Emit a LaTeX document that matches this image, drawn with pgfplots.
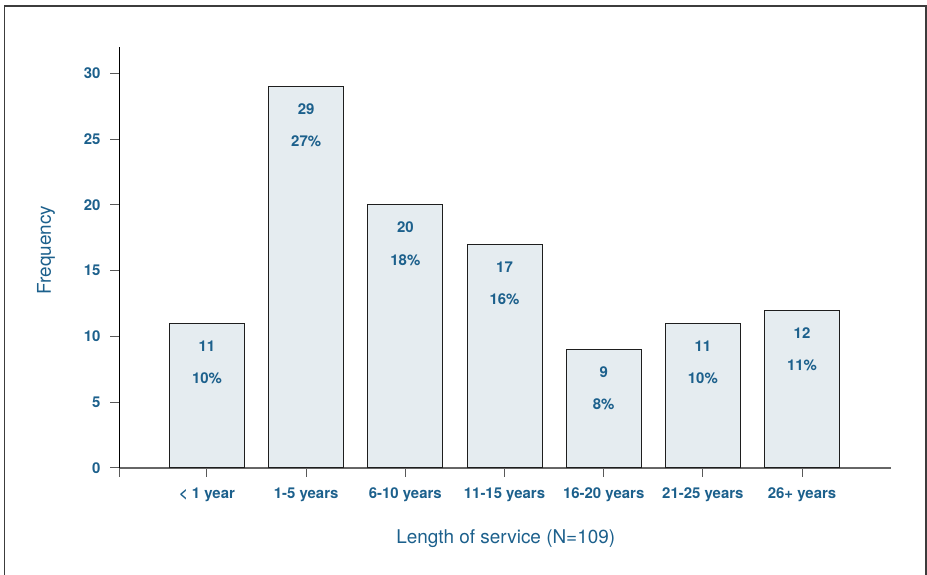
\documentclass[border=0pt]{standalone}
\usepackage{fontspec}
\setmainfont{TeX Gyre Heros}
\usepackage{pgfplots}
\usepackage{pgfplotstable}
\pgfplotsset{compat=1.18}

\definecolor{txtblue}{RGB}{28,96,140}
\definecolor{barfill}{RGB}{229,236,240}
\definecolor{baredge}{RGB}{30,30,30}
\definecolor{framegray}{RGB}{60,60,60}

% length of service: category index, headcount, share of N=109
\pgfplotstableread{
x n pct
0 11 10
1 29 27
2 20 18
3 17 16
4 9  8
5 11 10
6 12 11
}\servicedata

\begin{document}
\begin{tikzpicture}[x=1bp,y=1bp]
\useasboundingbox (0,0) rectangle (927,575);
\begin{axis}[
  at={(119bp,107bp)}, anchor=south west,
  scale only axis, width=772bp, height=421bp,
  xmin=-0.887, xmax=6.897, ymin=0, ymax=32,
  axis x line*=bottom, axis y line*=left,
  x axis line style={draw=black!60, line width=1.6bp},
  y axis line style={draw=black, line width=1bp},
  tick align=outside, major tick length=9bp,
  every tick/.style={draw=black!65, line width=1bp},
  xtick={0,...,6},
  xticklabels={{< 1 year},{1-5 years},{6-10 years},{11-15 years},{16-20 years},{21-25 years},{26+ years}},
  extra x ticks={-0.887}, extra x tick labels={},
  ytick={0,5,...,30},
  /pgf/number format/assume math mode=true,
  tick label style={font=\bfseries\fontsize{15}{18}\selectfont, text=txtblue},
  xticklabel style={yshift=-7bp},
  yticklabel style={xshift=-6bp},
  xlabel={Length of service (N=109)},
  ylabel={Frequency},
  every axis x label/.style={at={(axis description cs:0.501,-0.168)}, anchor=center,
    font=\fontsize{19}{22}\selectfont, text=txtblue},
  every axis y label/.style={at={(axis description cs:-0.0945,0.518)}, anchor=center, rotate=90,
    font=\fontsize{19}{22}\selectfont, text=txtblue},
  clip=false,
]
  \addplot[ybar, bar width=0.756, bar shift=0pt, fill=barfill, draw=baredge, line width=1bp]
    table[x=x, y=n] {\servicedata};
  % headcount printed inside the top of each bar
  \addplot[draw=none, mark=none, point meta=y,
    nodes near coords={\pgfmathprintnumber{\pgfplotspointmeta}},
    every node near coord/.append style={anchor=center, yshift=-22.5bp,
      font=\bfseries\fontsize{15}{18}\selectfont, text=txtblue}]
    table[x=x, y=n] {\servicedata};
  % percentage share below the headcount
  \addplot[draw=none, mark=none, point meta=explicit,
    nodes near coords={\pgfmathprintnumber{\pgfplotspointmeta}\%},
    every node near coord/.append style={anchor=center, yshift=-55bp,
      font=\bfseries\fontsize{15}{18}\selectfont, text=txtblue}]
    table[x=x, y=n, meta=pct] {\servicedata};
\end{axis}
\draw[framegray, line width=1.4bp] (4.5,0) -- (4.5,569) -- (926,569) -- (926,0);
\end{tikzpicture}
\end{document}
